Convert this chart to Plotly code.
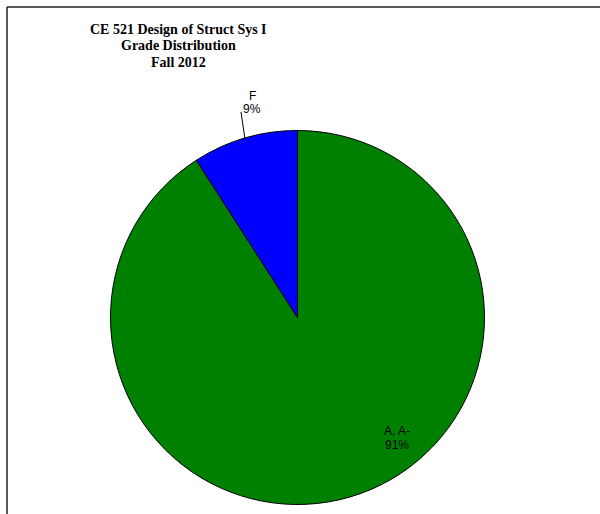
import plotly.graph_objects as go
import math

# ---- data ----
labels = ["A, A-", "F"]
values = [10, 1]
colors = ["#008000", "#0000FF"]
title_lines = ["CE 521 Design of Struct Sys I", "Grade Distribution", "Fall 2012"]

W, H = 600, 514
cx, cy, R = 297.5, 317.5, 187.0   # pie centre / radius in pixels


def px(x):
    return x / W


def py(y):
    return 1 - y / H


fig = go.Figure()
fig.add_trace(go.Pie(
    labels=labels,
    values=values,
    marker=dict(colors=colors, line=dict(color="black", width=1)),
    sort=False,
    direction="clockwise",
    rotation=0,
    textinfo="none",
    hoverinfo="label+percent",
    showlegend=False,
    domain=dict(x=[px(cx - R), px(cx + R)], y=[py(cy + R), py(cy - R)]),
))

total = sum(values)
pcts = [v / total for v in values]

# F label (outside with leader line) at the middle of its slice
start_F = pcts[0] * 360  # clockwise degrees from top
mid_F = math.radians(start_F + pcts[1] * 360 / 2)
x0 = cx + R * math.sin(mid_F)
y0 = cy - R * math.cos(mid_F)
fig.add_shape(type="line", xref="paper", yref="paper",
              x0=px(x0), y0=py(y0), x1=px(241), y1=py(112),
              line=dict(color="black", width=1))

font_lbl = dict(family="Liberation Sans, Arial", size=12, color="black")
annos = []
annos.append(dict(text=labels[1], x=px(252), y=py(96), xref="paper", yref="paper",
                  showarrow=False, font=font_lbl, xanchor="center", yanchor="middle"))
annos.append(dict(text=f"{round(pcts[1]*100)}%", x=px(252), y=py(109), xref="paper", yref="paper",
                  showarrow=False, font=font_lbl, xanchor="center", yanchor="middle"))
annos.append(dict(text=labels[0], x=px(397), y=py(431), xref="paper", yref="paper",
                  showarrow=False, font=font_lbl, xanchor="center", yanchor="middle"))
annos.append(dict(text=f"{round(pcts[0]*100)}%", x=px(397), y=py(445), xref="paper", yref="paper",
                  showarrow=False, font=font_lbl, xanchor="center", yanchor="middle"))
for i, (t, yy) in enumerate(zip(title_lines, [29, 45.5, 62])):
    annos.append(dict(text="<b>" + t + "</b>", x=px(178), y=py(yy), xref="paper", yref="paper",
                      showarrow=False,
                      font=dict(family="Liberation Serif, Times New Roman", size=14, color="black"),
                      xanchor="center", yanchor="middle"))

# chart frame (only top and left edges are inside the window)
fig.add_shape(type="line", xref="paper", yref="paper", x0=px(7), y0=py(7), x1=1.01, y1=py(7),
              line=dict(color="#222222", width=1.5))
fig.add_shape(type="line", xref="paper", yref="paper", x0=px(7), y0=py(7), x1=px(7), y1=-0.01,
              line=dict(color="#222222", width=1.5))

fig.update_layout(
    width=W, height=H,
    margin=dict(l=0, r=0, t=0, b=0),
    paper_bgcolor="white", plot_bgcolor="white",
    annotations=annos,
)

fig.write_html("out.html", config={"displayModeBar": False},
               post_script="document.body.style.margin='0';document.body.style.overflow='hidden';")
